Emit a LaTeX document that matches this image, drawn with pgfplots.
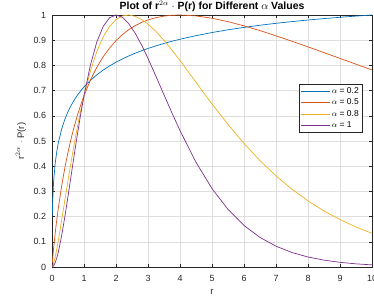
\documentclass[border=0pt]{standalone}
\usepackage{fontspec}
\setmainfont{Liberation Sans}
\usepackage{pgfplots}
\usepackage{pgfplotstable}
\pgfplotsset{compat=1.18}
\definecolor{mblue}{rgb}{0,0.447,0.741}
\definecolor{morange}{rgb}{0.850,0.325,0.098}
\definecolor{myellow}{rgb}{0.929,0.694,0.125}
\definecolor{mpurple}{rgb}{0.494,0.184,0.556}
\definecolor{axgray}{rgb}{0.15,0.15,0.15}
\definecolor{gridgray}{rgb}{0.87,0.87,0.87}
\pgfplotstableread{
r a02 a05 a08 a1
0.01 0.206735 0.016715 0.001137 0.000183
0.02 0.257109 0.032073 0.003382 0.000724
0.05 0.338336 0.073859 0.013975 0.004393
0.1 0.411424 0.134646 0.039602 0.016715
0.15 0.458760 0.188112 0.071302 0.035773
0.2 0.494258 0.236231 0.106742 0.060496
0.3 0.546767 0.320464 0.183720 0.123164
0.4 0.585547 0.392572 0.263747 0.198120
0.5 0.616346 0.455414 0.343130 0.280106
0.6 0.641882 0.510832 0.419773 0.364968
0.7 0.663675 0.560098 0.492297 0.449489
0.8 0.682667 0.604189 0.559990 0.531213
0.9 0.699470 0.643823 0.622490 0.608335
1.0 0.714522 0.679570 0.679570 0.679570
1.2 0.740559 0.741247 0.777574 0.801190
1.4 0.762492 0.792130 0.854870 0.892828
1.6 0.781376 0.834273 0.913243 0.954777
1.8 0.797899 0.869214 0.954735 0.989326
2.0 0.812549 0.898204 0.981708 1.000000
2.2 0.825668 0.922113 0.996145 0.990656
2.4 0.837519 0.941723 0.999847 0.965266
2.6 0.848302 0.957676 0.994758 0.927487
2.8 0.858171 0.970452 0.982262 0.880673
3.0 0.867251 0.980453 0.963846 0.827726
3.25 0.877645 0.989602 0.934425 0.756546
3.5 0.887126 0.995620 0.899427 0.683335
3.75 0.895815 0.998950 0.860472 0.610924
4.0 0.903814 1.000000 0.819086 0.541341
4.5 0.918082 0.996463 0.732830 0.415549
5.0 0.930443 0.987148 0.647037 0.311165
5.5 0.941271 0.973572 0.565712 0.228362
6.0 0.950843 0.956887 0.490498 0.164850
6.5 0.959368 0.937980 0.422150 0.117336
7.0 0.966999 0.917461 0.361747 0.082541
7.5 0.973882 0.895826 0.308583 0.057470
8.0 0.980118 0.873472 0.262247 0.039660
8.5 0.985778 0.850716 0.222332 0.027156
9.0 0.990944 0.827726 0.188076 0.018466
9.5 0.995666 0.804760 0.158803 0.012479
10.0 1.000000 0.781920 0.133727 0.008387
}\datatable
\begin{document}
\begin{tikzpicture}
\begin{axis}[
  name=ax,
  scale only axis, width=320bp, height=252bp,
  xmin=0, xmax=10, ymin=0, ymax=1,
  xtick={0,1,2,3,4,5,6,7,8,9,10},
  ytick={0,0.1,0.2,0.3,0.4,0.5,0.6,0.7,0.8,0.9,1},
  yticklabels={0,0.1,0.2,0.3,0.4,0.5,0.6,0.7,0.8,0.9,1},
  grid=major,
  major grid style={color=gridgray, line width=0.4bp},
  tick align=inside, major tick length=3bp,
  axis line style={color=axgray, line width=0.5bp},
  tick style={color=axgray, line width=0.5bp},
  ticklabel style={font=\fontsize{9}{10}\selectfont, color=axgray},
  /pgf/number format/assume math mode=true,
  xticklabel style={yshift=-5bp},
  yticklabel style={xshift=-2.4bp},
  legend image code/.code={\draw[#1] (0bp,0bp) -- (29bp,0bp);},
  legend style={at={(axis description cs:0.969,0.726)}, anchor=north east,
    draw=axgray, line width=0.5bp, font=\fontsize{8.5}{10}\selectfont,
    inner xsep=1.5bp, inner ysep=1.2bp, row sep=0bp,
    nodes={inner xsep=1.6bp},
    /tikz/every even column/.append style={column sep=0.5bp}},
  legend cell align=left,
]
\addplot[mblue, line width=0.7bp] table[x=r, y=a02] {\datatable};
\addlegendentry{$\alpha$ = 0.2}
\addplot[morange, line width=0.7bp] table[x=r, y=a05] {\datatable};
\addlegendentry{$\alpha$ = 0.5}
\addplot[myellow, line width=0.7bp] table[x=r, y=a08] {\datatable};
\addlegendentry{$\alpha$ = 0.8}
\addplot[mpurple, line width=0.7bp] table[x=r, y=a1] {\datatable};
\addlegendentry{$\alpha$ = 1}
\end{axis}
\node[anchor=base, font=\bfseries\fontsize{10.5}{12}\selectfont] at ([yshift=5.3bp]ax.north) {Plot of r$^{2\alpha}$ $\cdot$ P(r) for Different $\alpha$ Values};
\node[anchor=base, rotate=90, color=axgray, font=\fontsize{9.5}{11}\selectfont] at ([xshift=-28bp]ax.west) {r$^{2\alpha}$ $\cdot$ P(r)};
\node[anchor=base, color=axgray, font=\fontsize{9.5}{11}\selectfont] at ([yshift=-27bp]ax.south) {r};
\pgfresetboundingbox
\path ([shift={(-52bp,-34bp)}]ax.south west) rectangle ([shift={(2bp,15bp)}]ax.north east);
\end{tikzpicture}
\end{document}
